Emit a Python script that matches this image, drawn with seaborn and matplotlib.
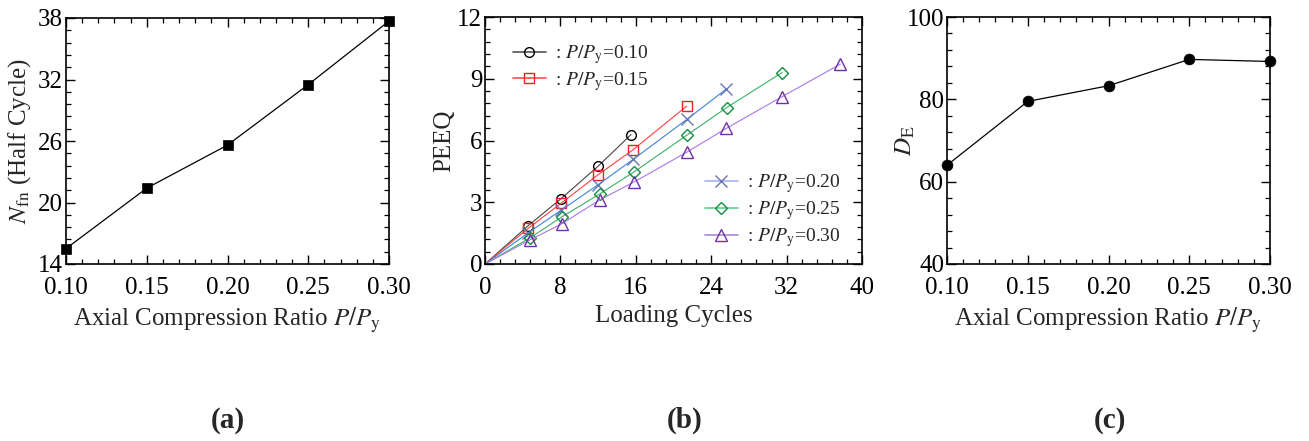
import matplotlib
matplotlib.use("Agg")
import matplotlib.pyplot as plt
from matplotlib.lines import Line2D
from matplotlib.ticker import MultipleLocator, FormatStrFormatter
import seaborn as sns

# ---- data ----
ratio = [0.10, 0.15, 0.20, 0.25, 0.30]
n_fn = [15.5, 21.4, 25.6, 31.5, 37.7]          # half cycles to fracture
d_e = [64.0, 79.5, 83.3, 89.7, 89.2]            # damage index

labels_b = ["0.10", "0.15", "0.20", "0.25", "0.30"]
cyc_010 = [0, 4.6, 8.06, 12.0, 15.5]
peeq_010 = [0, 1.87, 3.17, 4.75, 6.29]
cyc_015 = [0, 4.6, 8.07, 11.98, 15.65, 21.4]
peeq_015 = [0, 1.74, 2.95, 4.33, 5.53, 7.67]
cyc_020 = [0, 4.6, 8.1, 12.0, 15.74, 21.46, 25.6]
peeq_020 = [0, 1.52, 2.62, 3.85, 5.09, 7.04, 8.50]
cyc_025 = [0, 4.77, 8.13, 12.19, 15.8, 21.46, 25.64, 31.52]
peeq_025 = [0, 1.27, 2.28, 3.41, 4.47, 6.27, 7.60, 9.30]
cyc_030 = [0, 4.77, 8.13, 12.19, 15.8, 21.48, 25.6, 31.52, 37.7]
peeq_030 = [0, 1.17, 1.95, 3.12, 3.98, 5.45, 6.59, 8.13, 9.71]

sns.set_theme(style="white")
plt.rcParams["font.family"] = ["Liberation Serif", "DejaVu Serif"]
plt.rcParams["mathtext.fontset"] = "stix"

FS = 18
fig = plt.figure(figsize=(13.09, 4.41), dpi=100)
W, H = 1309, 441


def add_axes(x0, x1, y0, y1):
    return fig.add_axes([x0 / W, 1 - y1 / H, (x1 - x0) / W, (y1 - y0) / H])


def style_axes(ax):
    for s in ax.spines.values():
        s.set_linewidth(1.2)
        s.set_color("black")
    ax.tick_params(which="both", direction="in", top=True, right=True,
                   bottom=True, left=True, color="black", labelsize=FS,
                   labelcolor="black")
    ax.tick_params(which="major", length=6.5, width=1.0)
    ax.tick_params(which="minor", length=3.5, width=0.9)
    ax.tick_params(axis="x", which="major", pad=9)
    ax.tick_params(axis="y", which="major", pad=2)
    ax.xaxis.labelpad = 5
    ax.grid(False)


ax_a = add_axes(66, 389, 18, 264)
ax_b = add_axes(485, 862, 17, 264)
ax_c = add_axes(947, 1270, 17, 264)

# ---- (a) fracture life ----
sns.lineplot(x=ratio, y=n_fn, ax=ax_a, color="black", lw=0.9, marker="s",
             ms=7.5, mfc="black", mec="black", mew=0.5, clip_on=False,
             estimator=None, sort=False)
ax_a.set_xlim(0.10, 0.30)
ax_a.set_ylim(14, 38)
ax_a.xaxis.set_major_locator(MultipleLocator(0.05))
ax_a.xaxis.set_minor_locator(MultipleLocator(0.01))
ax_a.yaxis.set_major_locator(MultipleLocator(6, offset=2))
ax_a.yaxis.set_minor_locator(MultipleLocator(1.2, offset=0.8))
ax_a.xaxis.set_major_formatter(FormatStrFormatter("%.2f"))
ax_a.set_xlabel(r"Axial Compression Ratio $P/P_{\mathrm{y}}$", fontsize=FS)
ax_a.set_ylabel(r"$N_{\mathrm{fn}}$ (Half Cycle)", fontsize=FS)
style_axes(ax_a)
ax_a.yaxis.set_label_coords(-0.102, 0.5)

# ---- (b) PEEQ development ----
series = [
    (cyc_010, peeq_010, "#444444", "black", "o", "#555555"),
    (cyc_015, peeq_015, "#ff4040", "#f02020", "s", "#ff5050"),
    (cyc_020, peeq_020, "#3a82e0", "#6677b8", "x", "#a8b0f0"),
    (cyc_025, peeq_025, "#3bb064", "#139040", "D", "#60d090"),
    (cyc_030, peeq_030, "#a878e8", "#7030a8", "^", "#a888d8"),
]
msz = {"o": 7, "s": 7.5, "x": 8, "D": 6, "^": 8.5}
handles = []
for (cx, py, lc, mc, mk, legc), lab in zip(series, labels_b):
    sns.lineplot(x=cx, y=py, ax=ax_b, color=lc, lw=0.8, marker=mk,
                 markevery=list(range(1, len(cx))), ms=msz[mk], mfc="none",
                 mec=mc, mew=1.0, clip_on=False, estimator=None, sort=False)
    handles.append(Line2D([], [], color=legc, lw=1.2, marker=mk, ms=msz[mk],
                          mfc="none", mec=mc, mew=1.0,
                          label=r": $P/P_{\mathrm{y}}$=" + lab))
ax_b.set_xlim(0, 40)
ax_b.set_ylim(0, 12)
ax_b.xaxis.set_major_locator(MultipleLocator(8))
ax_b.xaxis.set_minor_locator(MultipleLocator(1.6))
ax_b.yaxis.set_major_locator(MultipleLocator(3))
ax_b.yaxis.set_minor_locator(MultipleLocator(0.6))
ax_b.set_xlabel("Loading Cycles", fontsize=FS)
ax_b.set_ylabel("PEEQ", fontsize=FS)
style_axes(ax_b)
ax_b.yaxis.set_label_coords(-0.080, 0.5)
leg_kw = dict(frameon=False, fontsize=14, handlelength=1.7,
              handletextpad=0.45, labelspacing=0.2, borderaxespad=0)
leg1 = ax_b.legend(handles=handles[:2], loc="upper left",
                   bbox_to_anchor=(0.053, 0.925), **leg_kw)
ax_b.add_artist(leg1)
ax_b.legend(handles=handles[2:], loc="lower right",
            bbox_to_anchor=(0.963, 0.029), **leg_kw)

# ---- (c) damage index ----
sns.lineplot(x=ratio, y=d_e, ax=ax_c, color="black", lw=0.9, marker="o",
             ms=7.8, mfc="black", mec="black", mew=0.5, clip_on=False,
             estimator=None, sort=False)
ax_c.set_xlim(0.10, 0.30)
ax_c.set_ylim(40, 100)
ax_c.xaxis.set_major_locator(MultipleLocator(0.05))
ax_c.xaxis.set_minor_locator(MultipleLocator(0.01))
ax_c.yaxis.set_major_locator(MultipleLocator(20))
ax_c.yaxis.set_minor_locator(MultipleLocator(4))
ax_c.xaxis.set_major_formatter(FormatStrFormatter("%.2f"))
ax_c.set_xlabel(r"Axial Compression Ratio $P/P_{\mathrm{y}}$", fontsize=FS)
ax_c.set_ylabel(r"$D_{\mathrm{E}}$", fontsize=FS)
style_axes(ax_c)
ax_c.yaxis.set_label_coords(-0.093, 0.5)

# ---- panel captions ----
for xc, txt in [(228, "(a)"), (685, "(b)"), (1110, "(c)")]:
    fig.text(xc / W, 1 - 420 / H, txt, ha="center", va="center",
             fontsize=21, fontweight="bold")

fig.savefig("out.png", dpi=100, facecolor="white")
